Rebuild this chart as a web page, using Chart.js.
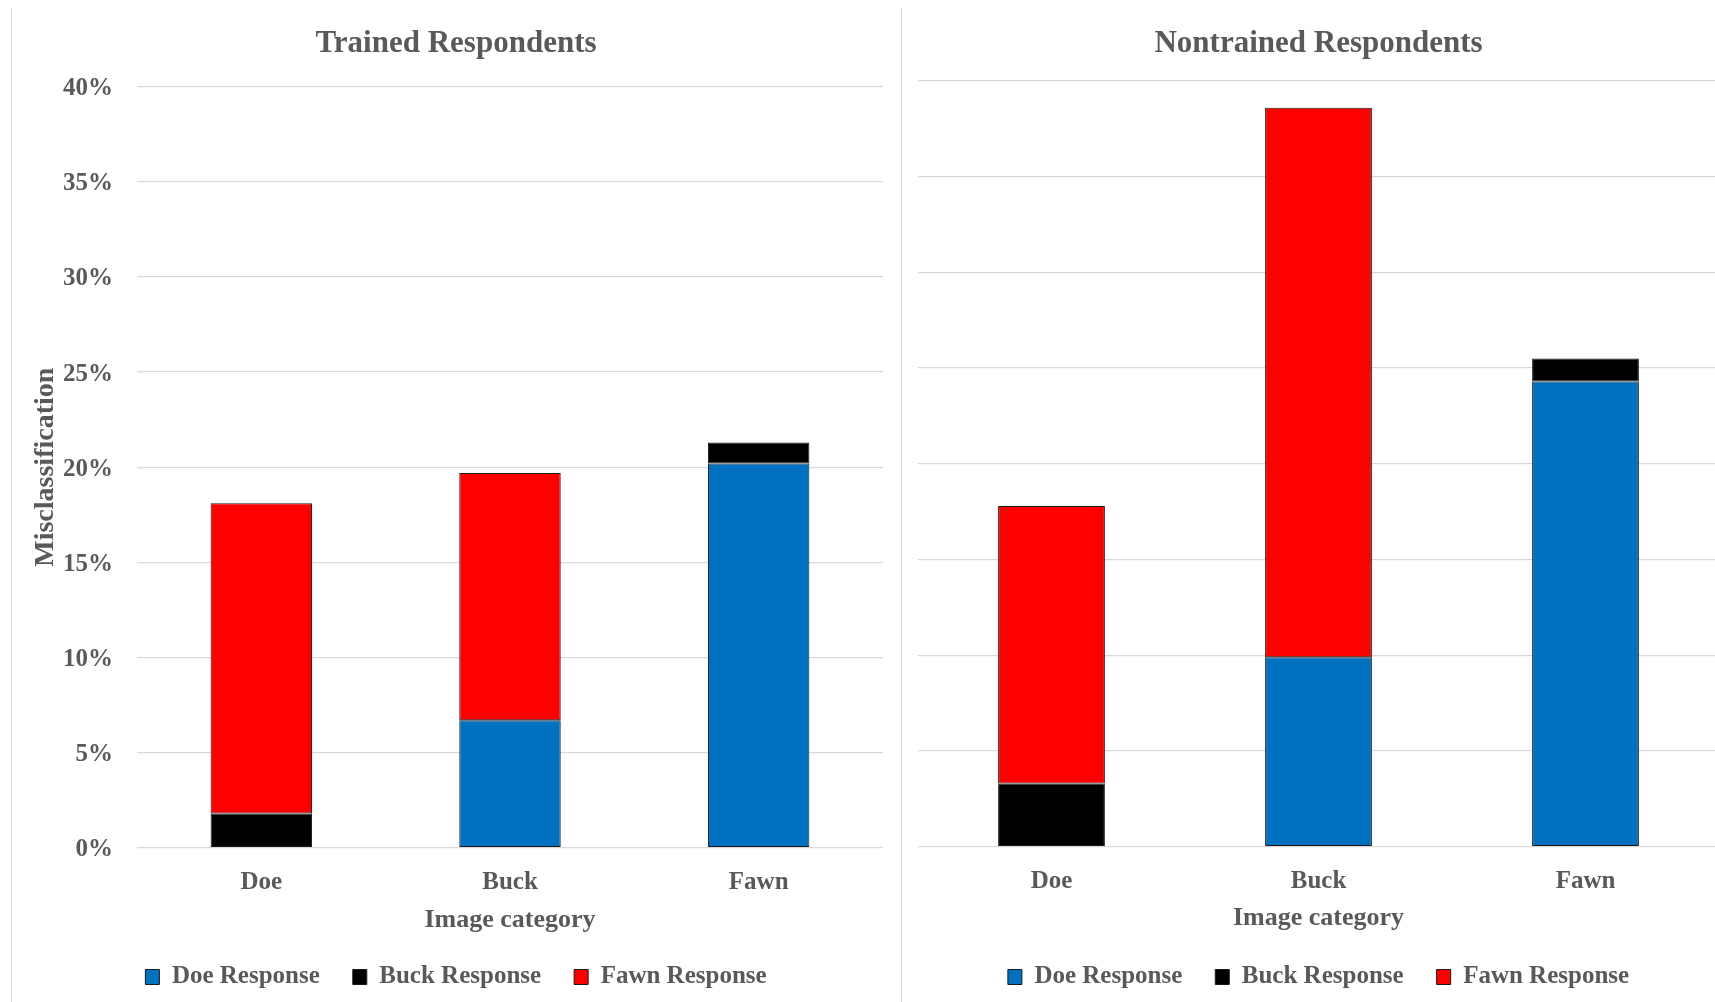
<!DOCTYPE html>
<html>
<head>
<meta charset="utf-8">
<script src="https://cdn.jsdelivr.net/npm/chart.js@4"></script>
<style>
  html, body { margin: 0; padding: 0; background: #ffffff; overflow: hidden; }
  body { width: 1715px; height: 1002px; position: relative; }
  canvas { position: absolute; top: 0; }
  .frame { position: absolute; top: 8px; bottom: 0; width: 0; border-left: 1px solid #d9d9d9; }
</style>
</head>
<body>
<div class="frame" style="left:11px"></div>
<div class="frame" style="left:901px"></div>
<canvas id="trained" width="888" height="1002" style="left:11px"></canvas>
<canvas id="nontrained" width="834" height="1002" style="left:901px"></canvas>
<script>
// Image categories shown to respondents
const categories = ['Doe', 'Buck', 'Fawn'];
const seriesNames = ['Doe Response', 'Buck Response', 'Fawn Response'];
const seriesColors = ['#0070C0', '#000000', '#FF0000'];

// Misclassification rates (%) by response, trained respondents
const trainedDoe = [0, 6.7, 20.2];
const trainedBuck = [1.8, 0, 1.1];
const trainedFawn = [16.3, 13.0, 0];

// Misclassification rates (%) by response, nontrained respondents
const nontrainedDoe = [0, 9.9, 24.3];
const nontrainedBuck = [3.3, 0, 1.2];
const nontrainedFawn = [14.5, 28.7, 0];

// Percent axis ticks
const yTicks = [0, 5, 10, 15, 20, 25, 30, 35, 40];

const FONT = '"Liberation Serif", "Times New Roman", serif';
const TEXT = '#595959';
const GRID = '#d9d9d9';

function makeDatasets(series, barPct) {
  return series.map((values, i) => ({
    label: seriesNames[i],
    data: values,
    backgroundColor: seriesColors[i],
    borderColor: '#1a1a1a',
    borderWidth: 1,
    borderSkipped: false,
    categoryPercentage: 1,
    barPercentage: barPct
  }));
}

function makeChart(id, opts) {
  return new Chart(document.getElementById(id), {
    type: 'bar',
    data: { labels: categories, datasets: makeDatasets(opts.series, opts.barPct) },
    options: {
      responsive: false,
      animation: false,
      devicePixelRatio: 1,
      layout: { padding: { left: opts.padLeft, right: 16, top: 0, bottom: 2.5 } },
      plugins: {
        tooltip: { enabled: false },
        title: {
          display: true,
          text: opts.title,
          color: TEXT,
          font: { family: FONT, size: 31, weight: 'bold', lineHeight: 1.2 },
          padding: { top: 25, bottom: opts.titleGap }
        },
        legend: {
          position: 'bottom',
          labels: {
            color: TEXT,
            font: { family: FONT, size: 25, weight: 'bold' },
            boxWidth: 14,
            boxHeight: 15,
            padding: 33
          }
        }
      },
      scales: {
        x: {
          stacked: true,
          grid: { display: false, drawTicks: false },
          border: { display: false },
          ticks: {
            color: TEXT,
            padding: opts.xTickPad,
            font: { family: FONT, size: 25, weight: 'bold' }
          },
          title: {
            display: true,
            text: 'Image category',
            color: TEXT,
            font: { family: FONT, size: 26, weight: 'bold', lineHeight: 0.9 },
            padding: { top: 0, bottom: opts.xTitlePad }
          },
          afterFit: s => { s.height = opts.xHeight; }
        },
        y: {
          stacked: true,
          min: 0,
          max: 40,
          afterBuildTicks: s => { s.ticks = yTicks.map(v => ({ value: v })); },
          grid: { color: GRID, lineWidth: 1.3, drawTicks: false },
          border: { display: false },
          ticks: {
            display: opts.showY,
            color: TEXT,
            padding: 24,
            labelOffset: 2,
            font: { family: FONT, size: 25, weight: 'bold' },
            callback: v => v + '%'
          },
          title: {
            display: opts.showY,
            text: 'Misclassification',
            color: TEXT,
            font: { family: FONT, size: 28, weight: 'bold', lineHeight: 1.2 },
            padding: { top: 0, bottom: 0 }
          },
          afterFit: s => { s.width = opts.yWidth; }
        }
      }
    }
  });
}

makeChart('trained', {
  title: 'Trained Respondents',
  series: [trainedDoe, trainedBuck, trainedFawn],
  barPct: 0.408,
  padLeft: 18,
  yWidth: 108,
  showY: true,
  titleGap: 24.5,
  xHeight: 83.8,
  xTickPad: 19.8,
  xTitlePad: 0
});

makeChart('nontrained', {
  title: 'Nontrained Respondents',
  series: [nontrainedDoe, nontrainedBuck, nontrainedFawn],
  barPct: 0.40,
  padLeft: 17,
  yWidth: 0,
  showY: false,
  titleGap: 18.8,
  xHeight: 84.8,
  xTickPad: 19.7,
  xTitlePad: 1.2
});
</script>
</body>
</html>
